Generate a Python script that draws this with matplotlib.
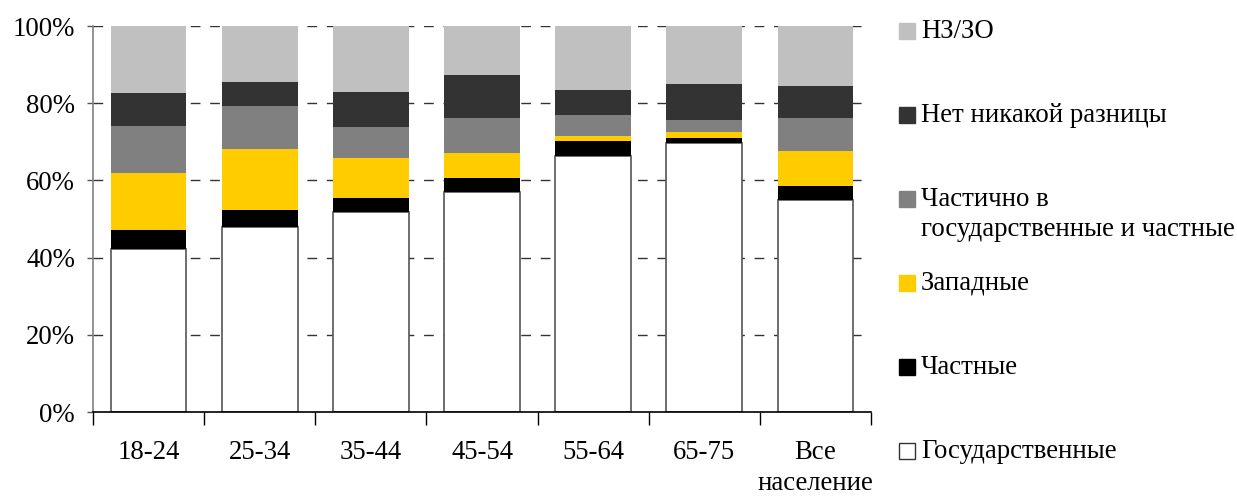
import numpy as np
import matplotlib
matplotlib.use('Agg')
from matplotlib import pyplot as plt
from matplotlib.patches import Rectangle

plt.rcParams['font.family'] = ['Liberation Serif', 'DejaVu Serif']

categories = ['18-24', '25-34', '35-44', '45-54', '55-64', '65-75', 'Все\nнаселение']

# values in %, bottom to top
gos = [42.2, 47.8, 51.7, 57.0, 66.3, 69.7, 54.9]
chast = [5.0, 4.5, 3.7, 3.6, 3.9, 1.3, 3.6]
zapad = [14.7, 15.8, 10.4, 6.5, 1.3, 1.5, 9.1]
chastichno = [12.2, 11.2, 8.0, 9.1, 5.4, 3.1, 8.6]
net_raznicy = [8.5, 6.2, 9.1, 11.1, 6.5, 9.4, 8.3]
nz = [17.4, 14.5, 17.1, 12.7, 16.6, 15.0, 15.5]

series = [
    ('Государственные', gos, '#FFFFFF'),
    ('Частные', chast, '#000000'),
    ('Западные', zapad, '#FFCC00'),
    ('Частично в\nгосударственные и частные', chastichno, '#808080'),
    ('Нет никакой разницы', net_raznicy, '#333333'),
    ('НЗ/ЗО', nz, '#C0C0C0'),
]

FS = 19.3

fig = plt.figure(figsize=(12.37, 4.96), dpi=100)
ax = fig.add_axes([93 / 1237, 84 / 496, 778 / 1237, 386 / 496])

x = np.arange(len(categories))
bottom = np.zeros(len(categories))
for name, vals, color in series:
    vals = np.array(vals)
    if color == '#FFFFFF':
        ax.bar(x, vals, 0.68, bottom=bottom, color=color, edgecolor='#555555',
               linewidth=1.2, zorder=2)
    else:
        ax.bar(x, vals, 0.68, bottom=bottom, color=color, linewidth=0, zorder=2)
    bottom += vals

ax.set_xlim(-0.5, len(categories) - 0.5)
ax.set_ylim(0, 100)
ax.set_yticks(range(0, 101, 20))
ax.set_yticklabels([f'{v}%' for v in range(0, 101, 20)], fontsize=FS)
for v in range(20, 101, 20):
    ax.axhline(v, color='#333333', linewidth=1, dashes=(7, 7), zorder=1)

ax.set_xticks(x)
ax.set_xticklabels(categories, fontsize=FS, linespacing=1.34, va='top')
ax.set_xticks(np.arange(-0.5, len(categories), 1), minor=True)
ax.tick_params(axis='x', which='major', length=0, pad=20)
ax.tick_params(axis='x', which='minor', length=9, width=1, color='#000000', direction='out')
ax.tick_params(axis='y', length=4, width=1, color='#555555', pad=9)

for side in ['top', 'right']:
    ax.spines[side].set_visible(False)
ax.spines['left'].set_color('#808080')
ax.spines['left'].set_linewidth(1.2)
ax.spines['bottom'].set_color('#000000')
ax.spines['bottom'].set_linewidth(1.2)

# legend drawn by hand in pixel positions (top to bottom)
legend_sq = [31, 115, 199, 283, 367, 451]
legend_txt = [31, 115, 214.5, 283, 367, 451]
for (name, vals, color), ys, yt in zip(reversed(series), legend_sq, legend_txt):
    fy = 1 - ys / 496
    ec = '#333333' if color == '#FFFFFF' else color
    fig.patches.append(Rectangle((899 / 1237, fy - 8 / 496), 16 / 1237, 16 / 496,
                                 facecolor=color, edgecolor=ec, linewidth=1,
                                 transform=fig.transFigure, figure=fig))
    fig.text(921 / 1237, 1 - yt / 496, name, fontsize=FS, va='center',
             ha='left', linespacing=1.26, transform=fig.transFigure)

fig.savefig('out.png', dpi=100)
